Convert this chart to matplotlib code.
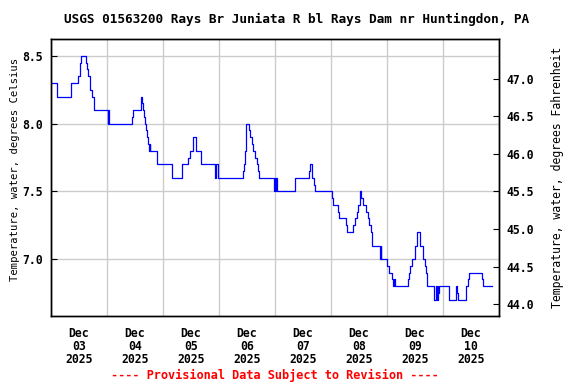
import matplotlib
matplotlib.use("Agg")
import matplotlib.pyplot as plt
import matplotlib.dates as mdates
from matplotlib.ticker import FormatStrFormatter
import pandas as pd

title = "USGS 01563200 Rays Br Juniata R bl Rays Dam nr Huntingdon, PA"
ylabel_c = "Temperature, water, degrees Celsius"
ylabel_f = "Temperature, water, degrees Fahrenheit"
footer = "---- Provisional Data Subject to Revision ----"

# change points of the 15-minute record (value holds until the next time)
times = [
    "2025-12-03 00:00", "2025-12-03 02:45", "2025-12-03 08:45", "2025-12-03 11:45",
    "2025-12-03 12:15", "2025-12-03 12:30", "2025-12-03 13:00", "2025-12-03 15:00",
    "2025-12-03 15:30", "2025-12-03 16:00", "2025-12-03 16:30", "2025-12-03 16:45",
    "2025-12-03 17:30", "2025-12-03 18:15",
    "2025-12-04 00:15", "2025-12-04 00:30", "2025-12-04 00:45", "2025-12-04 10:30",
    "2025-12-04 11:00", "2025-12-04 14:30", "2025-12-04 14:45", "2025-12-04 15:00",
    "2025-12-04 15:15", "2025-12-04 16:00", "2025-12-04 16:15", "2025-12-04 16:45",
    "2025-12-04 17:00", "2025-12-04 17:45", "2025-12-04 18:00", "2025-12-04 18:15",
    "2025-12-04 18:30", "2025-12-04 21:30",
    "2025-12-05 04:00", "2025-12-05 08:00", "2025-12-05 10:30", "2025-12-05 11:30",
    "2025-12-05 12:45", "2025-12-05 13:00", "2025-12-05 14:00", "2025-12-05 14:15",
    "2025-12-05 16:15", "2025-12-05 22:15", "2025-12-05 22:45", "2025-12-05 23:45",
    "2025-12-06 10:15", "2025-12-06 10:45", "2025-12-06 11:00", "2025-12-06 11:15",
    "2025-12-06 11:30", "2025-12-06 11:45", "2025-12-06 12:45", "2025-12-06 13:15",
    "2025-12-06 14:15", "2025-12-06 14:45", "2025-12-06 15:30", "2025-12-06 16:15",
    "2025-12-06 16:45", "2025-12-06 17:15", "2025-12-06 23:45",
    "2025-12-07 00:00", "2025-12-07 00:15", "2025-12-07 00:30", "2025-12-07 00:45",
    "2025-12-07 08:45", "2025-12-07 14:45", "2025-12-07 15:00", "2025-12-07 15:45",
    "2025-12-07 16:00", "2025-12-07 16:30", "2025-12-07 17:00",
    "2025-12-08 00:15", "2025-12-08 00:45", "2025-12-08 03:00", "2025-12-08 03:30",
    "2025-12-08 06:30", "2025-12-08 06:45", "2025-12-08 09:30", "2025-12-08 10:15",
    "2025-12-08 11:00", "2025-12-08 11:30", "2025-12-08 12:15", "2025-12-08 12:30",
    "2025-12-08 13:00", "2025-12-08 13:30", "2025-12-08 15:00", "2025-12-08 15:45",
    "2025-12-08 16:15", "2025-12-08 17:00", "2025-12-08 17:30", "2025-12-08 21:00",
    "2025-12-08 21:15", "2025-12-08 21:30",
    "2025-12-09 00:00", "2025-12-09 00:45", "2025-12-09 02:15", "2025-12-09 02:45",
    "2025-12-09 03:00", "2025-12-09 03:30", "2025-12-09 09:00", "2025-12-09 09:30",
    "2025-12-09 10:00", "2025-12-09 10:30", "2025-12-09 12:00", "2025-12-09 12:45",
    "2025-12-09 14:00", "2025-12-09 15:30", "2025-12-09 16:15", "2025-12-09 16:45",
    "2025-12-09 17:00", "2025-12-09 17:15", "2025-12-09 20:00", "2025-12-09 21:00",
    "2025-12-09 21:30", "2025-12-09 21:45", "2025-12-09 22:00", "2025-12-09 22:15",
    "2025-12-10 02:45", "2025-12-10 05:30", "2025-12-10 06:00", "2025-12-10 06:30",
    "2025-12-10 09:45", "2025-12-10 10:30", "2025-12-10 11:00", "2025-12-10 16:30",
    "2025-12-10 17:00", "2025-12-10 21:00",
]
temp_c = [
    8.3, 8.2, 8.3, 8.35,
    8.4, 8.45, 8.5, 8.45,
    8.4, 8.35, 8.3, 8.25,
    8.2, 8.1,
    8.0, 8.1, 8.0, 8.05,
    8.1, 8.15, 8.2, 8.15,
    8.1, 8.05, 8.0, 7.95,
    7.9, 7.85, 7.8, 7.85,
    7.8, 7.7,
    7.6, 7.7, 7.75, 7.8,
    7.85, 7.9, 7.85, 7.8,
    7.7, 7.6, 7.7, 7.6,
    7.65, 7.7, 7.75, 7.8,
    7.9, 8.0, 7.95, 7.9,
    7.85, 7.8, 7.75, 7.7,
    7.65, 7.6, 7.5,
    7.6, 7.5, 7.6, 7.5,
    7.6, 7.65, 7.7, 7.65,
    7.6, 7.55, 7.5,
    7.45, 7.4, 7.35, 7.3,
    7.25, 7.2, 7.25, 7.3,
    7.35, 7.4, 7.45, 7.5,
    7.45, 7.4, 7.35, 7.3,
    7.25, 7.2, 7.1, 7.0,
    7.1, 7.0,
    6.95, 6.9, 6.85, 6.8,
    6.85, 6.8, 6.85, 6.9,
    6.95, 7.0, 7.1, 7.2,
    7.1, 7.0, 6.95, 6.9,
    6.85, 6.8, 6.7, 6.8,
    6.7, 6.8, 6.75, 6.8,
    6.7, 6.8, 6.75, 6.7,
    6.8, 6.85, 6.9, 6.85,
    6.8, 6.8,
]

x_start = "2025-12-03"
x_end = "2025-12-11"
c_limits = (6.58, 8.625)
c_ticks = [7.0, 7.5, 8.0, 8.5]
f_ticks = [44.0, 44.5, 45.0, 45.5, 46.0, 46.5, 47.0]

plt.rcParams['font.family'] = 'DejaVu Sans Mono'
plt.rcParams['font.weight'] = 'bold'

t = pd.to_datetime(times)

fig = plt.figure(figsize=(5.76, 3.84), dpi=100)
ax = fig.add_axes([51 / 576, 1 - 316 / 384, 448 / 576, 277 / 384])
ax.step(t, temp_c, where='post', color='#0000ff', lw=0.9)

ax.set_xlim(pd.Timestamp(x_start), pd.Timestamp(x_end))
ax.set_ylim(*c_limits)

# labels sit at noon, grid lines at midnight
ax.xaxis.set_major_locator(mdates.HourLocator(byhour=12))
ax.xaxis.set_major_formatter(mdates.DateFormatter('%b\n%d\n%Y'))
ax.xaxis.set_minor_locator(mdates.DayLocator())
ax.grid(which='minor', axis='x', color='#cccccc', lw=1)
ax.grid(which='major', axis='y', color='#cccccc', lw=1)
ax.tick_params(axis='x', which='both', length=0, pad=8, labelsize=8.3)
for lab in ax.get_xticklabels():
    lab.set_linespacing(1.0)

ax.set_yticks(c_ticks)
ax.yaxis.set_major_formatter(FormatStrFormatter('%.1f'))
ax.tick_params(axis='y', direction='in', length=4, pad=6, labelsize=8.3)
ax.set_ylabel(ylabel_c, fontsize=7.6)
ax.yaxis.set_label_coords(-0.07, 0.53)
ax.set_axisbelow(True)

ax2 = ax.twinx()
lo, hi = ax.get_ylim()
ax2.set_ylim(lo * 9 / 5 + 32, hi * 9 / 5 + 32)
ax2.set_yticks(f_ticks)
ax2.yaxis.set_major_formatter(FormatStrFormatter('%.1f'))
ax2.tick_params(axis='y', direction='in', length=4, pad=5, labelsize=8.3)
ax2.set_ylabel(ylabel_f, fontsize=8.3)
ax2.yaxis.set_label_coords(1.115, 0.5)

for a in (ax, ax2):
    for s in a.spines.values():
        s.set_linewidth(1)
        s.set_color('black')

fig.text(0.514, 0.95, title, ha='center', va='center', fontsize=9.2)
fig.text(275 / 576, 9 / 384, footer, ha='center', va='center', fontsize=8.6, color='red')

fig.savefig("out.png", dpi=100)
